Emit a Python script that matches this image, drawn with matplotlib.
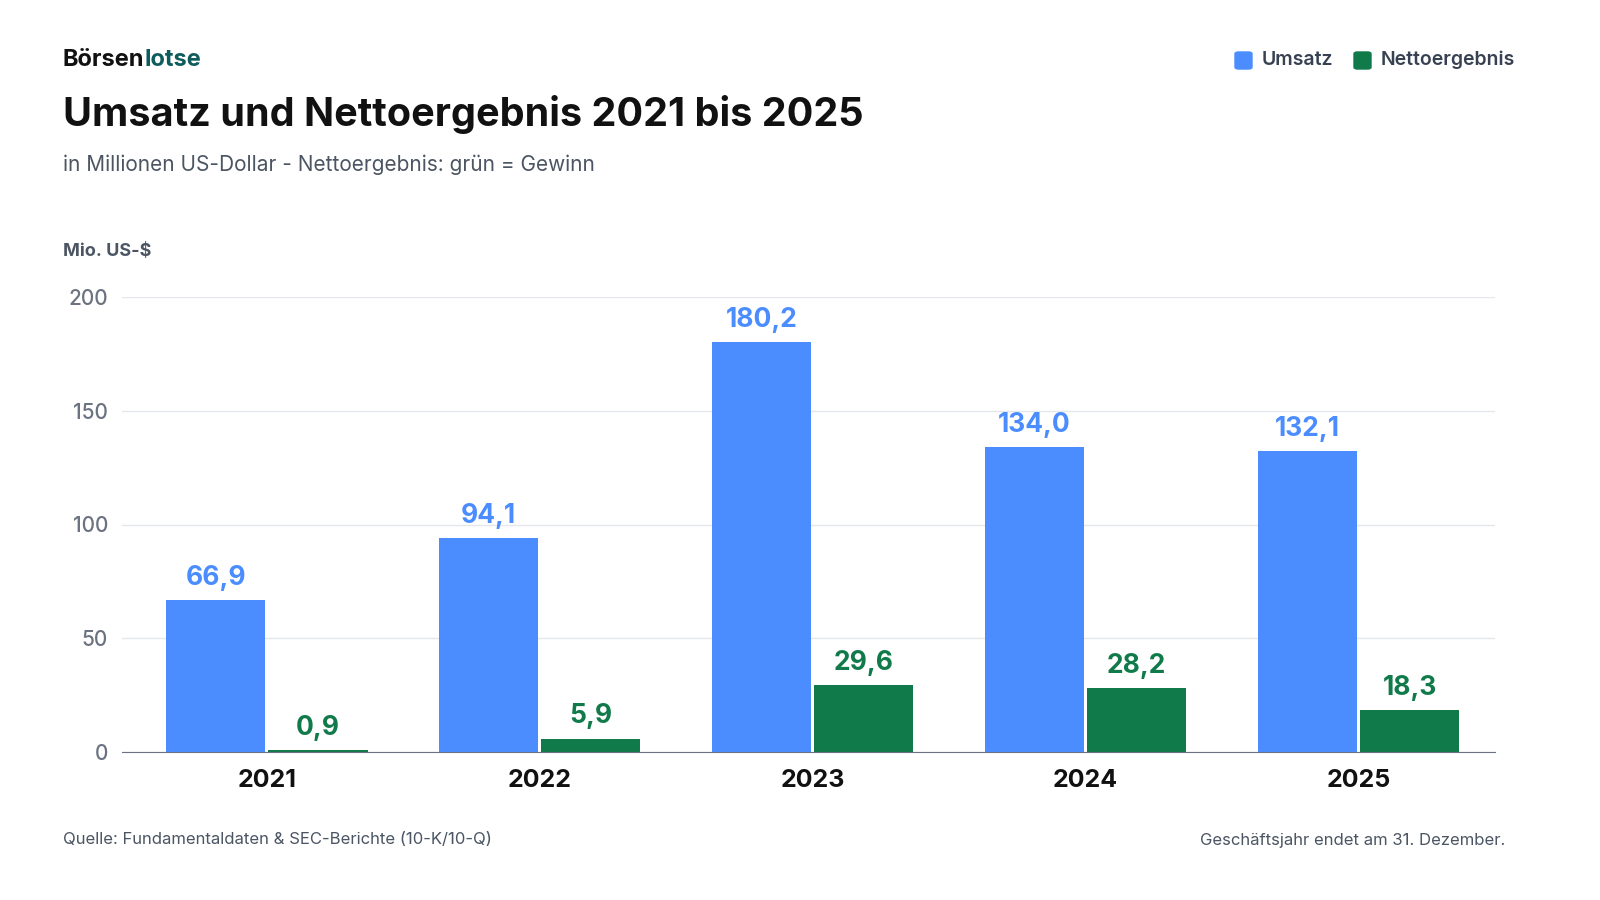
import matplotlib
matplotlib.use("Agg")
import matplotlib.pyplot as plt
import numpy as np
from matplotlib.patches import FancyBboxPatch

plt.rcParams['font.family'] = ['Inter', 'DejaVu Sans']

years = ["2021", "2022", "2023", "2024", "2025"]
umsatz = [66.9, 94.1, 180.2, 134.0, 132.1]
netto = [0.9, 5.9, 29.6, 28.2, 18.3]
yticks = [0, 50, 100, 150, 200]

BLUE = "#4B8DFF"
GREEN = "#117A4A"

fig = plt.figure(figsize=(16, 9), dpi=100)
ax = fig.add_axes([122/1600, 1-752/900, (1495-122)/1600, (752-297)/900])
x = np.arange(len(years))
w = 0.365
off = 0.187
ax.bar(x - off, umsatz, w, color=BLUE, zorder=3)
ax.bar(x + off, netto, w, color=GREEN, zorder=3)
def fmt(v):
    return f"{v:.1f}".replace(".", ",")
for xi, u, n in zip(x, umsatz, netto):
    ax.text(xi - off, u + 4, fmt(u), ha="center", va="bottom", color=BLUE, fontsize=19, fontweight="bold")
    ax.text(xi + off, n + 4, fmt(n), ha="center", va="bottom", color=GREEN, fontsize=19, fontweight="bold")

ax.set_xlim(-0.53, 4.5)
ax.set_ylim(0, 200)
ax.set_yticks(yticks)
ax.set_yticklabels([str(t) for t in yticks], fontsize=15, color="#6B7280", fontweight="medium")
ax.set_xticks(x)
ax.set_xticklabels(years, fontsize=18, fontweight="bold", color="#111111")
ax.tick_params(axis="both", length=0)
ax.tick_params(axis="y", pad=10)
ax.tick_params(axis="x", pad=12)
ax.grid(axis="y", color="#E5E7EB", linewidth=1, zorder=0)
for s in ["top", "right", "left"]:
    ax.spines[s].set_visible(False)
ax.spines["bottom"].set_color("#6B7280")
ax.spines["bottom"].set_zorder(4)

t1 = fig.text(63/1600, 1-60/900, "Börsen", fontsize=17, fontweight="bold", color="#111111", va="center")
fig.canvas.draw()
bb = t1.get_window_extent()
fig.text(bb.x1/1600, 1-60/900, "lotse", fontsize=17, fontweight="bold", color="#0F5C5C", va="center")
fig.text(63/1600, 1-115/900, "Umsatz und Nettoergebnis 2021 bis 2025", fontsize=28.5, fontweight="bold", color="#111111", va="center")
fig.text(63/1600, 1-165/900, "in Millionen US-Dollar - Nettoergebnis: grün = Gewinn", fontsize=15, color="#4B5563", va="center")
fig.text(63/1600, 1-252/900, "Mio. US-$", fontsize=13, fontweight="bold", color="#4B5563", va="center")
fig.text(63/1600, 1-840/900, "Quelle: Fundamentaldaten & SEC-Berichte (10-K/10-Q)", fontsize=12, color="#4B5563", va="center")
fig.text(1505/1600, 1-840/900, "Geschäftsjahr endet am 31. Dezember.", fontsize=12, color="#4B5563", va="center", ha="right")

for px, col, lab in [(1235, BLUE, "Umsatz"), (1354, GREEN, "Nettoergebnis")]:
    fig.patches.append(FancyBboxPatch((px/1600, 1-69/900), 17/1600, 17/900,
        boxstyle="round,pad=0,rounding_size=0.002", transform=fig.transFigure, color=col))
    fig.text((px+27)/1600, 1-60/900, lab, fontsize=14, fontweight="semibold", color="#374151", va="center")

fig.savefig("out.png", dpi=100)
